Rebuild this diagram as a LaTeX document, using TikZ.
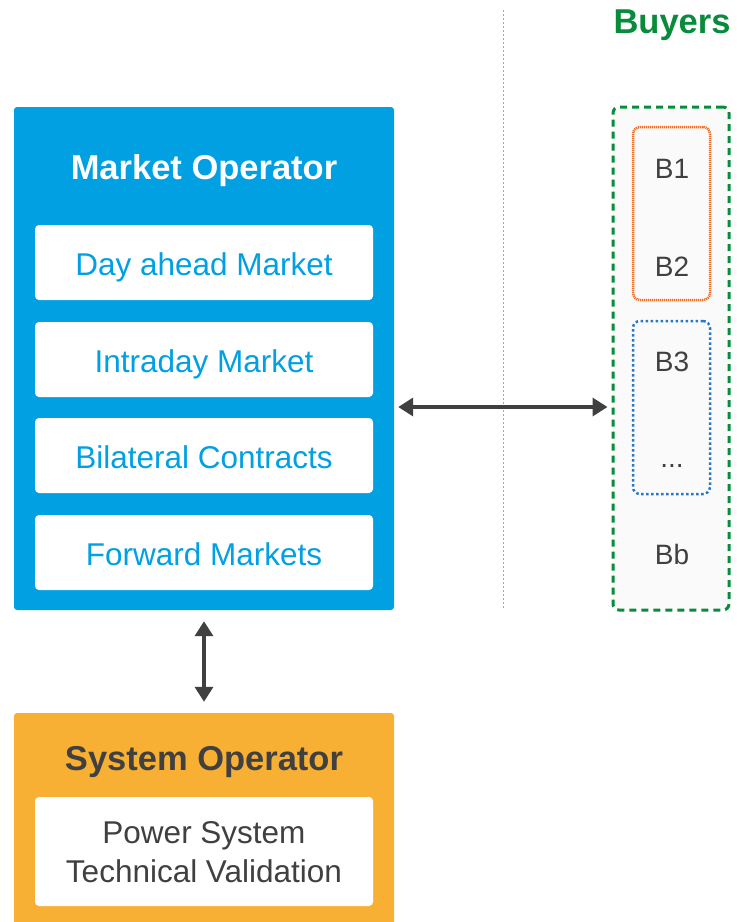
\documentclass[tikz,border=0pt]{standalone}
\usepackage{fontspec}
\setmainfont{Liberation Sans}
\usetikzlibrary{arrows.meta}
\definecolor{moblue}{RGB}{0,160,227}
\definecolor{soorange}{RGB}{247,176,52}
\definecolor{dgray}{RGB}{64,64,64}
\definecolor{bgreen}{RGB}{8,140,60}
\definecolor{borange}{RGB}{236,112,40}
\definecolor{bblue}{RGB}{40,120,200}
\tikzset{
  panel/.style={rectangle, rounded corners=3pt, minimum width=380pt, inner sep=0pt},
  itembox/.style={rectangle, fill=white, rounded corners=4pt, minimum width=338pt, minimum height=75pt, inner sep=0pt},
  itemtext/.style={anchor=base, inner sep=0pt, text=moblue, font=\fontsize{31.5}{36}\selectfont},
  titletext/.style={anchor=base, font=\fontsize{34.5}{40}\selectfont\bfseries, inner sep=0pt},
  btext/.style={anchor=base, text=dgray, font=\fontsize{28}{32}\selectfont, inner sep=0pt},
  group/.style={rectangle, rounded corners=7pt, line width=2.5pt, minimum width=77pt, minimum height=173pt, inner sep=0pt},
  link/.style={draw=dgray, line width=3.5pt, {Triangle[length=15pt,width=18pt]}-{Triangle[length=15pt,width=18pt]}},
}
\begin{document}
\begin{tikzpicture}[x=1pt,y=-1pt]
\useasboundingbox (0,0) rectangle (737,922);
\clip (0,0) rectangle (737,922);
% divider
\draw[draw=black!35, line width=1pt, dash pattern=on 2pt off 2pt] (503,10) -- (503,610);
% Market operator
\node[panel, fill=moblue, minimum height=503pt] (mo) at (204,358.5) {};
\node[titletext, text=white] (motitle) at (204,179) {Market Operator};
\node[itembox] (dam) at (204,262.5) {};
\node[itembox] (idm) at (204,359.5) {};
\node[itembox] (bil) at (204,455.5) {};
\node[itembox] (fwd) at (204,552.5) {};
\node[itemtext] (damt) at (204,275) {Day ahead Market};
\node[itemtext] (idmt) at (204,372) {Intraday Market};
\node[itemtext] (bilt) at (204,468.5) {Bilateral Contracts};
\node[itemtext] (fwdt) at (204,565) {Forward Markets};
% System operator
\node[panel, fill=soorange, minimum height=227pt] (so) at (204,826.5) {};
\node[titletext, text=dgray] (sotitle) at (204,770) {System Operator};
\node[itembox, minimum height=109pt] (psv) at (204,851.5) {};
\node[itemtext, text=dgray] (psv1) at (204,843) {Power System};
\node[itemtext, text=dgray] (psv2) at (204,882) {Technical Validation};
% Buyers
\node[titletext, text=bgreen] (buyerstitle) at (672,33) {Buyers};
\node[rectangle, rounded corners=6pt, draw=bgreen, fill=black!2, line width=3pt, dash pattern=on 7pt off 5pt, minimum width=116pt, minimum height=503pt, inner sep=0pt] (buyers) at (671,358.5) {};
\node[group, draw=borange, dash pattern=on 1.2pt off 0.8pt] (g1) at (671.5,213.5) {};
\node[group, draw=bblue, dash pattern=on 2.5pt off 2.5pt] (g2) at (671.5,407.5) {};
\node[btext] (b1) at (672,178) {B1};
\node[btext] (b2) at (672,276) {B2};
\node[btext] (b3) at (672,371) {B3};
\node[btext] (bd) at (672,467) {...};
\node[btext] (bb) at (672,564) {Bb};
% connectors
\draw[link, shorten <=11pt, shorten >=11pt] (mo.south) -- (so.north);
\draw[link, shorten <=4pt, shorten >=4pt] (mo.east |- 0,407) -- (buyers.west |- 0,407);
\end{tikzpicture}
\end{document}
